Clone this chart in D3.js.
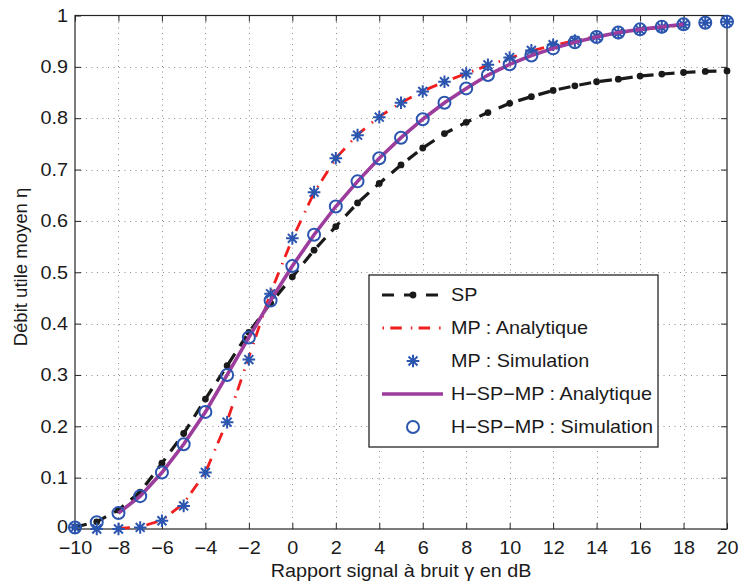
<!DOCTYPE html>
<html><head><meta charset="utf-8">
<script src="https://cdn.jsdelivr.net/npm/d3@7"></script>
<style>body{margin:0;background:#fff} svg{display:block} text{font-family:"Liberation Sans",Arial,Helvetica,sans-serif;fill:#1a1a1a}</style>
</head><body><svg id="c" width="739" height="585"></svg>
<script>
// ---- data ----
const snrSim = [-10,-9,-8,-7,-6,-5,-4,-3,-2,-1,0,1,2,3,4,5,6,7,8,9,10,11,12,13,14,15,16,17,18,19,20];
const spValues = [0.004,0.014,0.037,0.072,0.128,0.186,0.253,0.318,0.383,0.440,0.491,0.543,0.589,0.635,0.673,0.709,0.742,0.770,0.792,0.811,0.829,0.842,0.854,0.863,0.871,0.876,0.882,0.886,0.889,0.891,0.892];
const mpSim = [0.003,0.000,0.000,0.003,0.016,0.045,0.110,0.208,0.330,0.458,0.566,0.656,0.722,0.767,0.802,0.830,0.852,0.871,0.887,0.904,0.918,0.932,0.943,0.951,0.959,0.966,0.972,0.977,0.982,0.986,0.988];
const hspmpSim = [0.003,0.013,0.031,0.064,0.110,0.165,0.228,0.300,0.373,0.445,0.512,0.573,0.628,0.677,0.722,0.762,0.798,0.830,0.858,0.884,0.905,0.922,0.936,0.948,0.958,0.967,0.973,0.978,0.983,0.986,0.988];
const snrAna = [-8,-7,-6,-5,-4,-3,-2,-1,0,1,2,3,4,5,6,7,8,9,10,11,12,13,14,15,16,17,18];
const mpAna = [0.001,0.004,0.017,0.050,0.110,0.210,0.335,0.460,0.565,0.655,0.722,0.768,0.803,0.830,0.853,0.871,0.887,0.903,0.917,0.931,0.942,0.951,0.959,0.966,0.972,0.977,0.982];
const hspmpAna = [0.031,0.064,0.110,0.165,0.228,0.300,0.373,0.445,0.512,0.573,0.628,0.677,0.722,0.762,0.798,0.830,0.858,0.884,0.905,0.922,0.936,0.948,0.958,0.967,0.973,0.978,0.983];
const xTicks = [-10,-8,-6,-4,-2,0,2,4,6,8,10,12,14,16,18,20];
const yTicks = [0,0.1,0.2,0.3,0.4,0.5,0.6,0.7,0.8,0.9,1];
const legendLabels = ["SP","MP : Analytique","MP : Simulation","H\u2212SP\u2212MP : Analytique","H\u2212SP\u2212MP : Simulation"];
const xLabel = "Rapport signal à bruit γ en dB";
const yLabel = "Débit utile moyen η";

// ---- layout ----
const L=75,R=727,T=15.5,B=529;
const SX=1.1; // horizontal text stretch of the original figure
const svg=d3.select("#c");
const x=d3.scaleLinear([-10,20],[L,R]);
const y=d3.scaleLinear([0,1],[B,T]);
const cBlack="#1a1a1a", cRed="#f01e1e", cPurple="#9c3c9c", cBlue="#2b55ae";
const fs=18;

// grid
const grid=svg.append("g").attr("stroke","#8c8c8c").attr("stroke-width",1).attr("stroke-dasharray","1,4.5");
grid.selectAll("line.v").data(xTicks.slice(1,-1)).join("line")
  .attr("x1",d=>Math.round(x(d))+0.5).attr("x2",d=>Math.round(x(d))+0.5).attr("y1",B).attr("y2",T);
grid.selectAll("line.h").data(yTicks.slice(1,-1)).join("line")
  .attr("y1",d=>Math.round(y(d))+0.5).attr("y2",d=>Math.round(y(d))+0.5).attr("x1",L).attr("x2",R);

// axes
const fmtX=d=>d<0?"\u2212"+Math.abs(d):String(d);
const fmtY=d=>d===0?"0":d===1?"1":d3.format(".1f")(d);
function styleAxis(g){g.select(".domain").remove();g.selectAll("line").attr("stroke","#262626");g.selectAll("text").attr("font-size",fs).attr("font-family",null).attr("fill","#1a1a1a");}
svg.append("g").attr("transform",`translate(0,${B})`).call(d3.axisBottom(x).tickValues(xTicks).tickFormat(fmtX).tickSizeInner(-6).tickSizeOuter(0).tickPadding(12)).call(styleAxis)
  .selectAll(".tick text").attr("transform",`scale(${SX},1)`);
svg.append("g").attr("transform",`translate(0,${T})`).call(d3.axisTop(x).tickValues(xTicks).tickFormat("").tickSizeInner(-6).tickSizeOuter(0)).call(styleAxis);
svg.append("g").attr("transform",`translate(${L},0)`).call(d3.axisLeft(y).tickValues(yTicks).tickFormat(fmtY).tickSizeInner(-6).tickSizeOuter(0).tickPadding(7)).call(styleAxis)
  .selectAll(".tick text").attr("x",0).attr("dy",d=>d===0?"0.2em":"0.32em").attr("transform",`translate(-7,0) scale(${SX},1)`);
svg.append("g").attr("transform",`translate(${R},0)`).call(d3.axisRight(y).tickValues(yTicks).tickFormat("").tickSizeInner(-6).tickSizeOuter(0)).call(styleAxis);
svg.append("rect").attr("x",L).attr("y",T).attr("width",R-L).attr("height",B-T).attr("fill","none").attr("stroke","#262626").attr("stroke-width",1.2);

// labels
svg.append("text").attr("transform",`translate(${(L+R)/2},577) scale(${SX},1)`).attr("text-anchor","middle").attr("font-size",fs).text(xLabel);
svg.append("text").attr("transform",`translate(27,267) rotate(-90) scale(1.03,1)`).attr("text-anchor","middle").attr("font-size",fs).text(yLabel);

// series
const line=d3.line().x(d=>x(d[0])).y(d=>y(d[1]));
const spPts=snrSim.map((s,i)=>[s,spValues[i]]);
const mpAPts=snrAna.map((s,i)=>[s,mpAna[i]]);
const mpSPts=snrSim.map((s,i)=>[s,mpSim[i]]);
const hAPts=snrAna.map((s,i)=>[s,hspmpAna[i]]);
const hSPts=snrSim.map((s,i)=>[s,hspmpSim[i]]);

svg.append("path").datum(spPts).attr("d",line).attr("fill","none").attr("stroke",cBlack).attr("stroke-width",3.2).attr("stroke-dasharray","12,9");
svg.append("g").selectAll("circle").data(spPts).join("circle").attr("cx",d=>x(d[0])).attr("cy",d=>y(d[1])).attr("r",3.4).attr("fill",cBlack);

svg.append("path").datum(mpAPts).attr("d",line).attr("fill","none").attr("stroke",cRed).attr("stroke-width",2.8).attr("stroke-dasharray","11.5,9,1.5,6.3");

function star(px,py,r){
  const p=d3.path();
  for(let k=0;k<4;k++){const a=k*Math.PI/4;p.moveTo(px-r*Math.cos(a),py-r*Math.sin(a));p.lineTo(px+r*Math.cos(a),py+r*Math.sin(a));}
  return p.toString();
}
svg.append("g").selectAll("path").data(mpSPts).join("path").attr("d",d=>star(x(d[0]),y(d[1]),6.3)).attr("stroke",cBlue).attr("stroke-width",2).attr("fill","none");

svg.append("path").datum(hAPts).attr("d",line).attr("fill","none").attr("stroke",cPurple).attr("stroke-width",3.6);
svg.append("g").selectAll("circle").data(hSPts).join("circle").attr("cx",d=>x(d[0])).attr("cy",d=>y(d[1])).attr("r",6).attr("fill","none").attr("stroke",cBlue).attr("stroke-width",2);

// legend
const lg=svg.append("g");
lg.append("rect").attr("x",369).attr("y",275).attr("width",289).attr("height",172).attr("fill","#fff").attr("stroke","#262626").attr("stroke-width",1.3);
const rowY=i=>295+i*33;
const lx1=382,lx2=443,lxm=413;
lg.append("line").attr("x1",lx1).attr("x2",lx2).attr("y1",rowY(0)).attr("y2",rowY(0)).attr("stroke",cBlack).attr("stroke-width",3.2).attr("stroke-dasharray","12,10");
lg.append("circle").attr("cx",lxm).attr("cy",rowY(0)).attr("r",3.4).attr("fill",cBlack);
lg.append("line").attr("x1",lx1).attr("x2",lx2).attr("y1",rowY(1)).attr("y2",rowY(1)).attr("stroke",cRed).attr("stroke-width",2.8).attr("stroke-dasharray","11.5,9,1.5,6.3").attr("stroke-dashoffset",20);
lg.append("path").attr("d",star(lxm,rowY(2),6.3)).attr("stroke",cBlue).attr("stroke-width",2).attr("fill","none");
lg.append("line").attr("x1",lx1).attr("x2",lx2).attr("y1",rowY(3)).attr("y2",rowY(3)).attr("stroke",cPurple).attr("stroke-width",3.6);
lg.append("circle").attr("cx",lxm).attr("cy",rowY(4)).attr("r",6).attr("fill","none").attr("stroke",cBlue).attr("stroke-width",2);
lg.selectAll("text").data(legendLabels).join("text").attr("transform",(d,i)=>`translate(451,${rowY(i)}) scale(${SX},1)`).attr("dy","0.36em").attr("font-size",fs).text(d=>d);
</script></body></html>
